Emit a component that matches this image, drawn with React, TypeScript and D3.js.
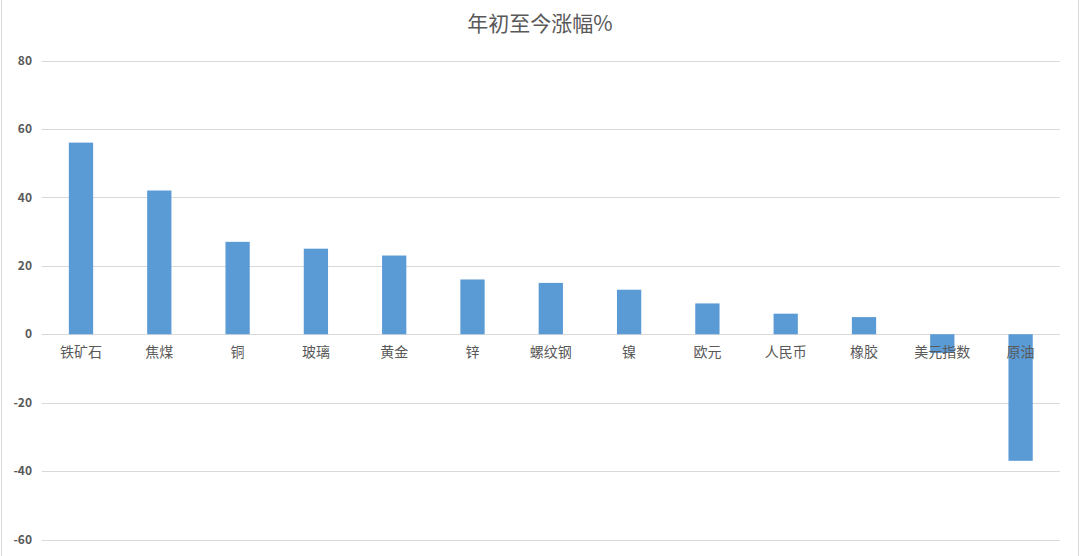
import React from 'react';
import * as d3 from 'd3';

const categories = ['铁矿石', '焦煤', '铜', '玻璃', '黄金', '锌', '螺纹钢', '镍', '欧元', '人民币', '橡胶', '美元指数', '原油'];
const values = [56, 42, 27, 25, 23, 16, 15, 13, 9, 6, 5, -5.5, -37];
const yTicks = [80, 60, 40, 20, 0, -20, -40, -60];
const title = '年初至今涨幅%';

const W = 1080;
const H = 556;
const FONT = '"Noto Sans CJK SC", "Noto Sans", sans-serif';

export default function App() {
  // plot area
  const x = d3.scaleBand<string>()
    .domain(categories)
    .range([41.85, 1059.75])
    .paddingInner(0.69)
    .paddingOuter(0.345);

  const y = d3.scaleLinear().domain([-60, 80]).range([539.5, 60.5]);

  return (
    <svg
      width={W}
      height={H}
      style={{ position: 'fixed', left: 0, top: 0, background: '#fff', fontFamily: FONT }}
    >
      <rect width={W} height={H} fill="#fff" />
      {/* sheet edges */}
      <line x1={1.5} x2={1.5} y1={0} y2={H} stroke="#d9d9d9" />
      <line x1={1078.5} x2={1078.5} y1={0} y2={H} stroke="#d9d9d9" />

      <text x={540} y={31} textAnchor="middle" fontSize={21} fill="#595959">{title}</text>

      {/* gridlines + y labels */}
      {yTicks.map(t => (
        <g key={t}>
          <line
            x1={41.85}
            x2={1059.75}
            y1={Math.round(y(t)) + 0.5}
            y2={Math.round(y(t)) + 0.5}
            stroke="#d9d9d9"
            strokeWidth={1}
          />
          <text
            x={32}
            y={y(t)}
            dy="0.35em"
            textAnchor="end"
            fontSize={12}
            fontWeight={700}
            fill="#595959"
          >
            {t}
          </text>
        </g>
      ))}

      {/* bars */}
      {categories.map((c, i) => {
        const v = values[i];
        const y0 = y(0);
        const y1 = y(v);
        return (
          <rect
            key={c}
            x={x(c)}
            y={Math.min(y0, y1)}
            width={x.bandwidth()}
            height={Math.abs(y1 - y0)}
            fill="#5b9bd5"
          />
        );
      })}

      {/* category labels */}
      {categories.map(c => (
        <text
          key={c}
          x={(x(c) as number) + x.bandwidth() / 2}
          y={352}
          dy="0.35em"
          textAnchor="middle"
          fontSize={14}
          fill="#595959"
        >
          {c}
        </text>
      ))}
    </svg>
  );
}
